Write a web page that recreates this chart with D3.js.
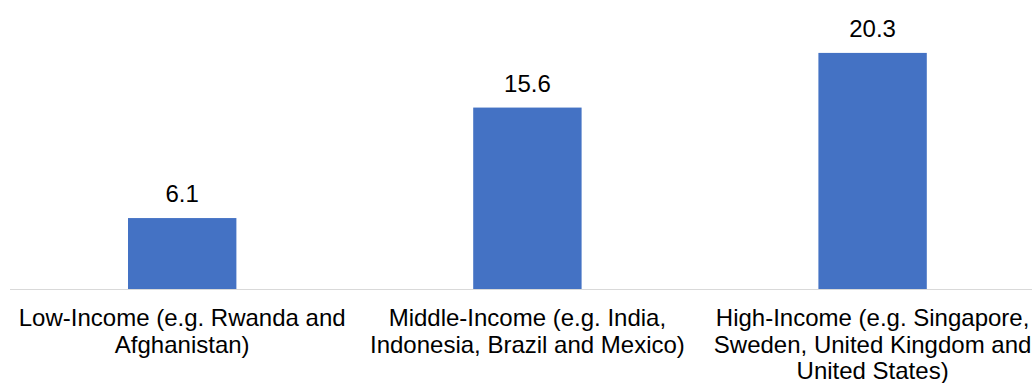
<!DOCTYPE html>
<html>
<head>
<meta charset="utf-8">
<script src="https://cdn.jsdelivr.net/npm/d3@7"></script>
<style>
  html, body { margin: 0; padding: 0; background: #fff; }
  svg { display: block; }
  text { font-family: "Liberation Sans", Arial, sans-serif; fill: #000; }
</style>
</head>
<body>
<svg id="chart" width="1032" height="383"></svg>
<script>
// Income groups and their values
const categories = [
  "Low-Income (e.g. Rwanda and Afghanistan)",
  "Middle-Income (e.g. India, Indonesia, Brazil and Mexico)",
  "High-Income (e.g. Singapore, Sweden, United Kingdom and United States)"
];
const values = [6.1, 15.6, 20.3];

const W = 1032, H = 383;
const baseY = 289;
const svg = d3.select("#chart");

const x = d3.scaleBand()
  .domain(categories)
  .range([9.6, 1045.2])
  .paddingInner(0.686)
  .paddingOuter(0.343);

const y = d3.scaleLinear()
  .domain([0, 25])
  .range([baseY, baseY - 25 * 11.63]);

// Bars
svg.append("g").selectAll("rect")
  .data(values)
  .join("rect")
  .attr("x", (d, i) => x(categories[i]))
  .attr("width", x.bandwidth())
  .attr("y", d => y(d))
  .attr("height", d => y(0) - y(d))
  .attr("fill", "#4472C4");

// Category axis line
svg.append("line")
  .attr("x1", 10).attr("x2", W)
  .attr("y1", baseY + 0.5).attr("y2", baseY + 0.5)
  .attr("stroke", "#d9d9d9").attr("stroke-width", 1);

// Value labels above bars
svg.append("g").selectAll("text")
  .data(values)
  .join("text")
  .attr("x", (d, i) => x(categories[i]) + x.bandwidth() / 2)
  .attr("y", d => y(d) - 16)
  .attr("text-anchor", "middle")
  .style("font-size", "24px")
  .text(d => d.toFixed(1));

// Category labels, wrapped to the band step
const maxW = 340;
const lineH = 26.5;
const labels = svg.append("g").selectAll("text")
  .data(categories)
  .join("text")
  .attr("text-anchor", "middle")
  .style("font-size", "24px")
  .attr("x", d => x(d) + x.bandwidth() / 2)
  .attr("y", baseY + 37);

labels.each(function (d) {
  const t = d3.select(this);
  const cx = +t.attr("x");
  const words = d.split(" ");
  let line = [];
  let n = 0;
  let tspan = t.append("tspan").attr("x", cx).attr("dy", 0);
  for (const w of words) {
    line.push(w);
    tspan.text(line.join(" "));
    if (tspan.node().getComputedTextLength() > maxW && line.length > 1) {
      line.pop();
      tspan.text(line.join(" "));
      line = [w];
      n++;
      tspan = t.append("tspan").attr("x", cx).attr("dy", lineH).text(w);
    }
  }
});
</script>
</body>
</html>
